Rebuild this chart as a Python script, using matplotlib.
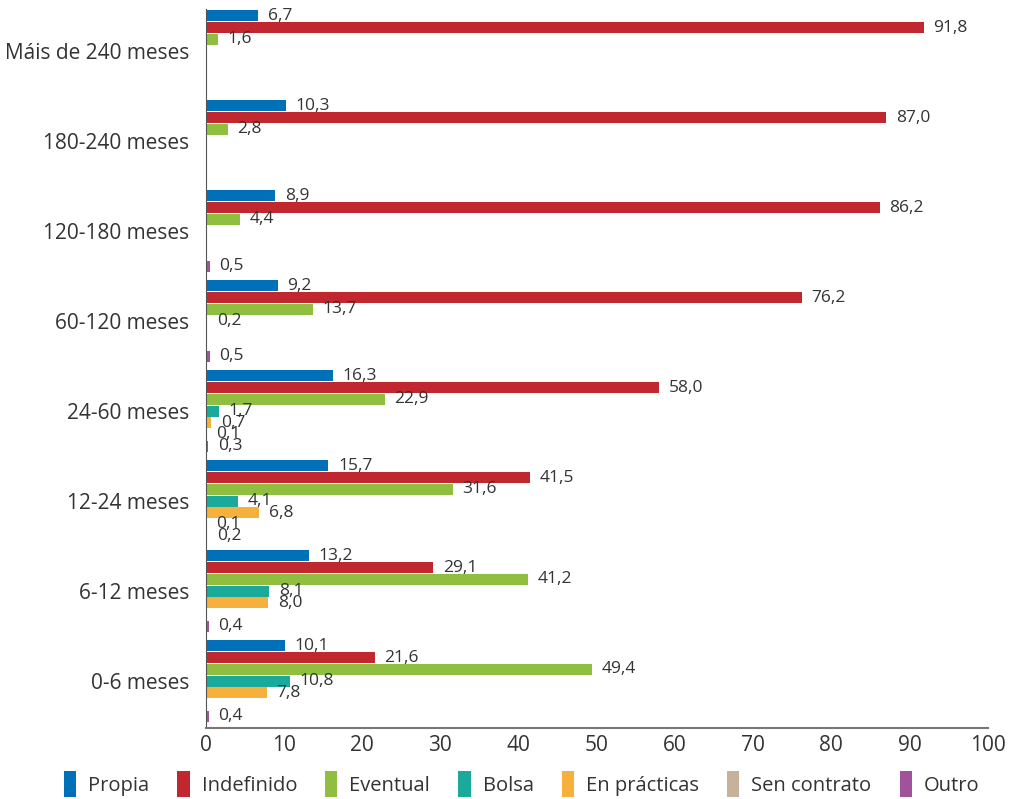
import numpy as np
import matplotlib
matplotlib.use("Agg")
from matplotlib import pyplot as plt
from matplotlib.patches import Patch

plt.rcParams['font.family'] = ['Open Sans', 'DejaVu Sans']

# categories, top to bottom as in the picture
categories = ["Máis de 240 meses", "180-240 meses", "120-180 meses", "60-120 meses",
              "24-60 meses", "12-24 meses", "6-12 meses", "0-6 meses"]
series = ["Propia", "Indefinido", "Eventual", "Bolsa", "En prácticas", "Sen contrato", "Outro"]
colors = ["#0071b9", "#c1272f", "#8fbe41", "#1aa99b", "#f6b13d", "#c8b19a", "#a0529a"]

nan = np.nan
propia = [6.7, 10.3, 8.9, 9.2, 16.3, 15.7, 13.2, 10.1]
indefinido = [91.8, 87.0, 86.2, 76.2, 58.0, 41.5, 29.1, 21.6]
eventual = [1.6, 2.8, 4.4, 13.7, 22.9, 31.6, 41.2, 49.4]
bolsa = [nan, nan, nan, 0.2, 1.7, 4.1, 8.1, 10.8]
en_practicas = [nan, nan, nan, nan, 0.7, 6.8, 8.0, 7.8]
sen_contrato = [nan, nan, nan, nan, 0.1, 0.1, nan, nan]
outro = [nan, nan, 0.5, 0.5, 0.3, 0.2, 0.4, 0.4]

values = [propia, indefinido, eventual, bolsa, en_practicas, sen_contrato, outro]

fig = plt.figure(figsize=(10.13, 7.99), dpi=100)
ax = fig.add_axes([0.203, 0.089, 0.772, 0.900])

n = len(categories)
ypos = np.arange(n)[::-1]  # first category at top
slot = 0.13

for i, (name, vals, col) in enumerate(zip(series, values, colors)):
    y = ypos + (3 - i) * slot
    for yy, v in zip(y, vals):
        if np.isnan(v):
            continue
        ax.barh(yy, v, height=0.122, color=col, left=0)
        ax.annotate(f"{v:.1f}".replace(".", ","), xy=(v, yy), xytext=(7, 0),
                    textcoords="offset points", va="center", ha="left",
                    fontsize=12.5, color="#333333")

ax.set_xlim(0, 100)
ax.set_ylim(-0.52, n - 1 + 0.47)
ax.set_xticks(range(0, 101, 10))
ax.set_yticks(ypos)
ax.set_yticklabels(categories)
ax.tick_params(axis="y", length=0, labelsize=15, pad=12, colors="#333333")
ax.tick_params(axis="x", length=0, labelsize=15, pad=5, colors="#333333")

for s in ["top", "right"]:
    ax.spines[s].set_visible(False)
ax.spines["left"].set_color("#555555")
ax.spines["bottom"].set_color("#777777")
ax.spines["bottom"].set_linewidth(1.5)

handles = [Patch(facecolor=c, label=s) for s, c in zip(series, colors)]
fig.legend(handles=handles, loc="lower center", bbox_to_anchor=(0.515, -0.02), ncol=7,
           frameon=False, fontsize=14.5, handlelength=0.6, handleheight=1.6,
           handletextpad=0.6, columnspacing=1.4, labelcolor="#333333")

fig.savefig("out.png", dpi=100)
